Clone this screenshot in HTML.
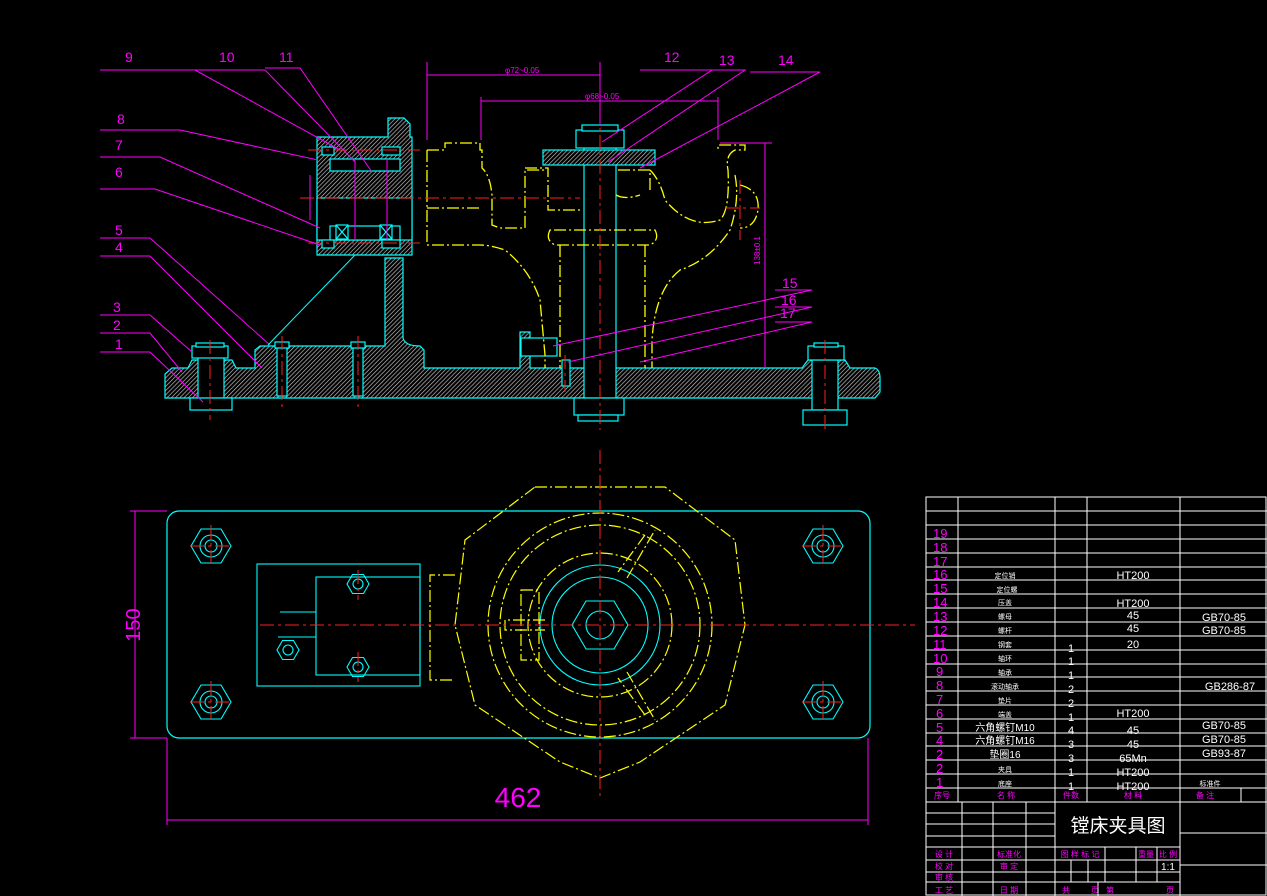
<!DOCTYPE html>
<html><head><meta charset="utf-8"><style>
html,body{margin:0;padding:0;background:#000;}
svg{display:block}
text{font-family:"Liberation Sans","Noto Sans CJK SC",sans-serif;}
</style></head><body>
<svg width="1267" height="896" viewBox="0 0 1267 896" xmlns="http://www.w3.org/2000/svg">
<defs>
<pattern id="h" width="3" height="3" patternUnits="userSpaceOnUse" patternTransform="rotate(45)">
<rect width="3" height="3" fill="#000"/><line x1="0" y1="0" x2="0" y2="3" stroke="#c8c8c8" stroke-width="1.3"/>
</pattern>
</defs>
<rect width="1267" height="896" fill="#000"/>

<!-- ===== FRONT VIEW ===== -->
<g stroke="#00ffff" stroke-width="1.2" fill="url(#h)">
<!-- base plate -->
<path d="M172 368 H188 L192 360 H232 L236 368 H255 V350 L260 346 H385 V258 H403 V338 Q405 346 420 346 L424 350 V368 H520 V332 H530 V368 H802 L808 360 H845 L850 368 H875 Q880 370 880 378 V392 L875 398 H165 V374 Z"/>
<!-- housing -->
<path d="M317 137 H388 V118 H404 L410 124 V137 H412 V255 H317 Z"/>
</g>
<g stroke="#00ffff" stroke-width="1.2" fill="#000">
<rect x="317" y="198" width="95" height="42"/>
<rect x="330" y="159" width="70" height="12"/>
<rect x="330" y="226" width="70" height="14"/>
<rect x="336" y="225" width="12" height="14"/><rect x="380" y="225" width="12" height="14"/>
<path d="M336 225 L348 239 M348 225 L336 239 M380 225 L392 239 M392 225 L380 239" fill="none"/>
<rect x="322" y="147" width="12" height="8"/><rect x="382" y="147" width="18" height="8"/>
<rect x="322" y="240" width="12" height="8"/><rect x="382" y="240" width="18" height="8"/>
<!-- workpiece yellow comes later; shaft -->
<rect x="584" y="148" width="32" height="250"/>
<rect x="576" y="130" width="48" height="18"/>
<rect x="582" y="125" width="36" height="6"/>
<rect x="543" y="150" width="112" height="15" fill="url(#h)"/>
<rect x="574" y="398" width="50" height="17"/>
<rect x="578" y="415" width="40" height="6"/>
<!-- bolts -->
<rect x="198" y="357" width="26" height="41"/>
<rect x="192" y="346" width="36" height="12"/>
<rect x="196" y="343" width="28" height="4"/>
<rect x="190" y="398" width="42" height="12"/>
<rect x="812" y="360" width="26" height="50"/>
<rect x="808" y="346" width="36" height="14"/>
<rect x="814" y="343" width="24" height="4"/>
<rect x="803" y="410" width="44" height="15"/>
<rect x="277" y="346" width="10" height="50"/><rect x="275" y="342" width="14" height="6"/>
<rect x="353" y="346" width="10" height="50"/><rect x="351" y="342" width="14" height="6"/>
<rect x="521" y="338" width="36" height="18"/>
<rect x="562" y="360" width="8" height="26"/>
</g>
<!-- yellow workpiece -->
<g stroke="#ffff00" stroke-width="1.3" fill="none" stroke-dasharray="12 3 2 3">
<path d="M427 150 H445 V143 H480 V150 H482 V168 Q490 175 492 195 V225 L500 228 H525 V170 H545"/>
<path d="M427 150 V245 H480 Q490 245 505 250 Q530 270 540 300 L545 355 V368"/>
<path d="M427 208 H482"/>
<path d="M525 168 H548 V210 H580"/>
<path d="M550 230 Q545 240 555 245 H650 Q660 240 655 230 Z"/>
<path d="M560 245 V368 M645 245 V368"/>
<path d="M650 170 Q660 180 665 200 Q690 230 720 220 Q730 210 728 170 Q725 155 735 150 H745 V145 H718 V150"/>
<path d="M735 175 Q740 200 730 230 Q710 260 680 270 Q655 290 652 340 V368"/>
<path d="M740 185 Q760 190 758 210 Q755 228 740 228"/>
<path d="M618 170 H650 V190 M616 195 Q625 200 640 195"/>
</g>
<!-- red centerlines -->
<g stroke="#ff2020" stroke-width="1" stroke-dasharray="14 4 3 4" fill="none">
<line x1="300" y1="198" x2="580" y2="198"/>
<line x1="600" y1="110" x2="600" y2="430"/>
<line x1="210" y1="340" x2="210" y2="420"/>
<line x1="282" y1="336" x2="282" y2="408"/>
<line x1="358" y1="336" x2="358" y2="408"/>
<line x1="825" y1="340" x2="825" y2="430"/>
<line x1="565" y1="355" x2="565" y2="392"/>
<line x1="740" y1="180" x2="740" y2="240"/>
<line x1="725" y1="208" x2="760" y2="208"/>
<line x1="308" y1="150" x2="420" y2="150"/>
<line x1="308" y1="243" x2="420" y2="243"/>
</g>
<!-- magenta dims -->
<g stroke="#ff00ff" stroke-width="1" fill="none">
<line x1="427" y1="62" x2="427" y2="140"/>
<line x1="600" y1="62" x2="600" y2="125"/>
<line x1="427" y1="75" x2="600" y2="75"/>
<line x1="481" y1="97" x2="481" y2="140"/>
<line x1="718" y1="97" x2="718" y2="140"/>
<line x1="481" y1="101" x2="718" y2="101"/>
<line x1="720" y1="143" x2="772" y2="143"/>
<line x1="765" y1="143" x2="765" y2="368"/>
<line x1="310" y1="175" x2="310" y2="220"/>
<line x1="355" y1="160" x2="355" y2="240"/>
<line x1="387" y1="160" x2="387" y2="240"/>
<!-- leaders -->
<path d="M100 70 H195 L340 150"/>
<path d="M195 70 H265 L355 162"/>
<path d="M265 68 H300 L372 172"/>
<path d="M100 130 H180 L318 160"/>
<path d="M100 157 H160 L320 228"/>
<path d="M100 189 H155 L320 245"/>
<path d="M100 238 H150 L270 345"/>
<path d="M100 256 H150 L262 368"/>
<path d="M100 315 H150 L192 352"/>
<path d="M100 333 H150 L182 372"/>
<path d="M100 352 H150 L203 402"/>
<path d="M640 70 H712 L602 142"/>
<path d="M690 70 H745 L608 162"/>
<path d="M750 72 H820 L640 168"/>
<path d="M775 290 H812 L553 346"/>
<path d="M775 307 H812 L568 362"/>
<path d="M775 322 H812 L640 362"/>
</g>
<line x1="355" y1="255" x2="268" y2="345" stroke="#00ffff" stroke-width="1"/>
<g fill="#ff00ff" font-size="8">
<text x="505" y="73">φ72~0.05</text><text x="585" y="99">φ68~0.05</text>
<text x="760" y="265" transform="rotate(-90 760 265)">138±0.1</text>
</g>
<g fill="#ff00ff" font-size="14">
<text x="125" y="62">9</text><text x="219" y="62">10</text><text x="279" y="62">11</text>
<text x="664" y="62">12</text><text x="719" y="65">13</text><text x="778" y="65">14</text>
<text x="117" y="124">8</text><text x="115" y="150">7</text><text x="115" y="177">6</text>
<text x="115" y="235">5</text><text x="115" y="252">4</text><text x="113" y="312">3</text>
<text x="113" y="330">2</text><text x="115" y="349">1</text>
<text x="782" y="288">15</text><text x="781" y="305">16</text><text x="780" y="318">17</text>
</g>

<!-- ===== TOP VIEW ===== -->
<rect x="167" y="511" width="703" height="227" rx="12" fill="none" stroke="#00ffff" stroke-width="1.2"/>
<g stroke="#00ffff" stroke-width="1.1" fill="none">
<rect x="257" y="564" width="163" height="122"/>
<rect x="316" y="577" width="104" height="98"/>
<path d="M280 612 H316 M278 637 H316"/>
<circle cx="600" cy="625" r="60"/><circle cx="600" cy="625" r="48"/>
<polygon points="628,625 614,649 586,649 572,625 586,601 614,601"/>
<circle cx="600" cy="625" r="14"/>
</g>
<g stroke="#00ffff" stroke-width="1.1" fill="none">
<g transform="translate(211 546)"><polygon points="20,0 10,17 -10,17 -20,0 -10,-17 10,-17"/><circle r="11"/><circle r="6"/></g>
<g transform="translate(211 702)"><polygon points="20,0 10,17 -10,17 -20,0 -10,-17 10,-17"/><circle r="11"/><circle r="6"/></g>
<g transform="translate(823 546)"><polygon points="20,0 10,17 -10,17 -20,0 -10,-17 10,-17"/><circle r="11"/><circle r="6"/></g>
<g transform="translate(823 702)"><polygon points="20,0 10,17 -10,17 -20,0 -10,-17 10,-17"/><circle r="11"/><circle r="6"/></g>
<g transform="translate(358 584)"><polygon points="11,0 5.5,9.5 -5.5,9.5 -11,0 -5.5,-9.5 5.5,-9.5"/><circle r="5"/></g>
<g transform="translate(358 667)"><polygon points="11,0 5.5,9.5 -5.5,9.5 -11,0 -5.5,-9.5 5.5,-9.5"/><circle r="5"/></g>
<g transform="translate(288 650)"><polygon points="11,0 5.5,9.5 -5.5,9.5 -11,0 -5.5,-9.5 5.5,-9.5"/><circle r="5"/></g>
</g>
<g stroke="#ffff00" stroke-width="1.2" fill="none" stroke-dasharray="12 3 2 3">
<polygon points="535,487 665,487 735,540 745,625 725,705 640,762 600,778 560,762 475,705 455,625 465,540"/>
<circle cx="600" cy="625" r="112"/><circle cx="600" cy="625" r="100"/><circle cx="600" cy="625" r="72"/>
<path d="M627 578 L655 530 M645 535 L618 572"/>
<path d="M627 672 L655 720 M645 715 L618 678"/>
<path d="M545 620 H505 V630 H545"/>
<rect x="521" y="590" width="18" height="70"/>
<path d="M455 575 H430 V680 H455"/>
</g>
<g stroke="#ff2020" stroke-width="1" stroke-dasharray="14 4 3 4">
<line x1="260" y1="625" x2="915" y2="625"/><line x1="600" y1="450" x2="600" y2="800"/>
<line x1="190" y1="546" x2="232" y2="546"/><line x1="211" y1="525" x2="211" y2="567"/>
<line x1="190" y1="702" x2="232" y2="702"/><line x1="211" y1="681" x2="211" y2="723"/>
<line x1="802" y1="546" x2="844" y2="546"/><line x1="823" y1="525" x2="823" y2="567"/>
<line x1="802" y1="702" x2="844" y2="702"/><line x1="823" y1="681" x2="823" y2="723"/>
<line x1="358" y1="570" x2="358" y2="600"/><line x1="358" y1="652" x2="358" y2="682"/>
</g>
<g stroke="#ff00ff" stroke-width="1" fill="none">
<line x1="130" y1="511" x2="167" y2="511"/><line x1="130" y1="738" x2="167" y2="738"/>
<line x1="135" y1="511" x2="135" y2="738"/>
<line x1="167" y1="738" x2="167" y2="825"/><line x1="868" y1="738" x2="868" y2="825"/>
<line x1="167" y1="820" x2="868" y2="820"/>
</g>
<text x="140" y="625" fill="#ff00ff" font-size="20" text-anchor="middle" transform="rotate(-90 140 625)">150</text>
<text x="518" y="807" fill="#ff00ff" font-size="28" text-anchor="middle">462</text>

<!-- ===== TABLE ===== -->
<g stroke="#fff" stroke-width="1" fill="none">
<rect x="926" y="497" width="340" height="398"/>
<path d="M958 497 V802 M1055 497 V896 M1087 497 V802 M1180 497 V896"/>
<path d="M926 511 H1267 M926 525 H1267 M926 539 H1267 M926 553 H1267 M926 567 H1267 M926 580 H1267 M926 594 H1267 M926 608 H1267 M926 622 H1267 M926 636 H1267 M926 650 H1267 M926 664 H1267 M926 677 H1267 M926 691 H1267 M926 705 H1267 M926 719 H1267 M926 733 H1267 M926 746 H1267 M926 760 H1267 M926 774 H1267 M926 788 H1267 M926 802 H1267"/>
<path d="M1241 788 V802"/>
<path d="M926 813 H1055 M926 824 H1055 M926 836 H1055 M926 847 H1180 M926 860 H1180 M926 872 H1180 M926 882 H1180"/>
<path d="M962 802 V896 M993 802 V896 M1026 802 V896"/>
<path d="M1071 860 V882 M1088 860 V882 M1105 847 V882 M1136 847 V882 M1157 847 V882"/>
<path d="M1098 882 V896 M1180 833 H1267 M1180 865 H1267"/>
</g>
<g fill="#ff00ff" font-size="13">
<text x="933" y="538">19</text><text x="933" y="552">18</text><text x="933" y="566">17</text>
<text x="933" y="579">16</text><text x="933" y="593">15</text><text x="933" y="607">14</text>
<text x="933" y="621">13</text><text x="933" y="635">12</text><text x="933" y="649">11</text>
<text x="933" y="663">10</text><text x="936" y="676">9</text><text x="936" y="690">8</text>
<text x="936" y="704">7</text><text x="936" y="718">6</text><text x="936" y="732">5</text>
<text x="936" y="745">4</text><text x="936" y="759">2</text><text x="936" y="773">2</text><text x="936" y="787">1</text>
</g>
<g fill="#fff" font-size="7" text-anchor="middle" font-family="'Liberation Sans','Noto Sans CJK SC',sans-serif">
<text x="1005" y="578">定位销</text><text x="1007" y="592">定位螺</text><text x="1005" y="605">压盖</text>
<text x="1005" y="619">螺母</text><text x="1005" y="633">螺杆</text><text x="1005" y="647">钢套</text>
<text x="1005" y="661">轴环</text><text x="1005" y="675">轴承</text><text x="1005" y="689">滚动轴承</text>
<text x="1005" y="703">垫片</text><text x="1005" y="717">端盖</text>
<text x="1005" y="731" font-size="10">六角螺钉M10</text><text x="1005" y="744" font-size="10">六角螺钉M16</text>
<text x="1005" y="758" font-size="10">垫圈16</text><text x="1005" y="772">夹具</text><text x="1005" y="786">底座</text>
<text x="1210" y="786">标准件</text>
</g>
<g fill="#fff" font-size="11" text-anchor="middle">
<text x="1071" y="652">1</text><text x="1071" y="665">1</text><text x="1071" y="679">1</text><text x="1071" y="693">2</text>
<text x="1071" y="707">2</text><text x="1071" y="721">1</text><text x="1071" y="734">4</text><text x="1071" y="748">3</text>
<text x="1071" y="762">3</text><text x="1071" y="776">1</text><text x="1071" y="790">1</text>
<text x="1133" y="579">HT200</text><text x="1133" y="607">HT200</text><text x="1133" y="619">45</text>
<text x="1133" y="632">45</text><text x="1133" y="648">20</text><text x="1133" y="717">HT200</text>
<text x="1133" y="734">45</text><text x="1133" y="748">45</text><text x="1133" y="762">65Mn</text>
<text x="1133" y="776">HT200</text><text x="1133" y="790">HT200</text>
<text x="1224" y="621">GB70-85</text><text x="1224" y="634">GB70-85</text><text x="1230" y="690">GB286-87</text>
<text x="1224" y="729">GB70-85</text><text x="1224" y="743">GB70-85</text><text x="1224" y="757">GB93-87</text>
</g>
<g fill="#ff00ff" font-size="8" text-anchor="middle">
<text x="942" y="798">序号</text><text x="1006" y="798">名 称</text><text x="1071" y="798">件数</text>
<text x="1133" y="798">材 料</text><text x="1205" y="798">备 注</text>
<text x="944" y="857">设 计</text><text x="944" y="869">校 对</text><text x="944" y="880">审 核</text><text x="944" y="893">工 艺</text>
<text x="1009" y="857">标准化</text><text x="1009" y="869">审 定</text><text x="1009" y="893">日 期</text>
<text x="1080" y="857">图 样 标 记</text><text x="1146" y="857">重量</text><text x="1168" y="857">比 例</text>
<text x="1066" y="893">共</text><text x="1095" y="893">页</text><text x="1110" y="893">第</text><text x="1170" y="893">页</text>
</g>
<text x="1168" y="870" fill="#fff" font-size="10" text-anchor="middle">1:1</text>
<text x="1118" y="832" fill="#fff" font-size="19" text-anchor="middle" font-family="'Liberation Sans','Noto Sans CJK SC',sans-serif">镗床夹具图</text>
</svg>
</body></html>
